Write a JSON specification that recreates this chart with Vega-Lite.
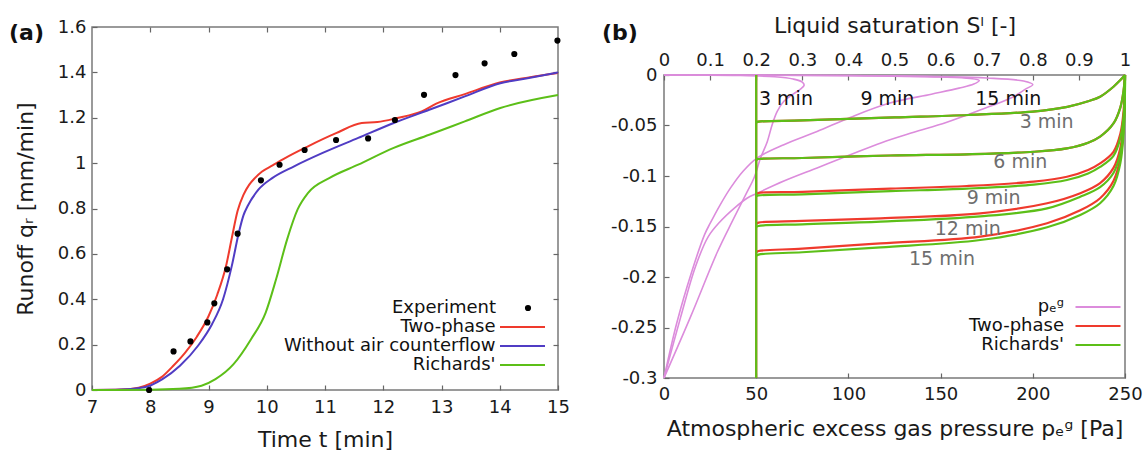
{
  "$schema": "https://vega.github.io/schema/vega-lite/v6.json",
  "padding": {"left": 8, "top": 7, "right": 0, "bottom": 0},
  "spacing": 30,
  "datasets": {
    "runoff": [
      {"model": "Two-phase", "t": 7.0, "q": 0.0},
      {"model": "Two-phase", "t": 7.5, "q": 0.002},
      {"model": "Two-phase", "t": 7.8, "q": 0.01},
      {"model": "Two-phase", "t": 8.0, "q": 0.028},
      {"model": "Two-phase", "t": 8.2, "q": 0.058},
      {"model": "Two-phase", "t": 8.4, "q": 0.108},
      {"model": "Two-phase", "t": 8.6, "q": 0.165},
      {"model": "Two-phase", "t": 8.8, "q": 0.235},
      {"model": "Two-phase", "t": 9.0, "q": 0.325},
      {"model": "Two-phase", "t": 9.15, "q": 0.42},
      {"model": "Two-phase", "t": 9.3, "q": 0.545},
      {"model": "Two-phase", "t": 9.4, "q": 0.67},
      {"model": "Two-phase", "t": 9.5, "q": 0.79},
      {"model": "Two-phase", "t": 9.6, "q": 0.86},
      {"model": "Two-phase", "t": 9.7, "q": 0.905},
      {"model": "Two-phase", "t": 9.8, "q": 0.935},
      {"model": "Two-phase", "t": 9.92, "q": 0.963},
      {"model": "Two-phase", "t": 10.1, "q": 0.99},
      {"model": "Two-phase", "t": 10.3, "q": 1.02},
      {"model": "Two-phase", "t": 10.7, "q": 1.073},
      {"model": "Two-phase", "t": 11.2, "q": 1.133},
      {"model": "Two-phase", "t": 11.63, "q": 1.177},
      {"model": "Two-phase", "t": 11.9, "q": 1.181},
      {"model": "Two-phase", "t": 12.24, "q": 1.199},
      {"model": "Two-phase", "t": 12.66, "q": 1.228},
      {"model": "Two-phase", "t": 12.91, "q": 1.262},
      {"model": "Two-phase", "t": 13.4, "q": 1.304},
      {"model": "Two-phase", "t": 14.0, "q": 1.355},
      {"model": "Two-phase", "t": 14.5, "q": 1.378},
      {"model": "Two-phase", "t": 15.0, "q": 1.397},
      {"model": "Without air counterflow", "t": 7.0, "q": 0.0},
      {"model": "Without air counterflow", "t": 7.5, "q": 0.002},
      {"model": "Without air counterflow", "t": 7.9, "q": 0.012},
      {"model": "Without air counterflow", "t": 8.21, "q": 0.048},
      {"model": "Without air counterflow", "t": 8.51, "q": 0.107},
      {"model": "Without air counterflow", "t": 8.82, "q": 0.195},
      {"model": "Without air counterflow", "t": 9.06, "q": 0.29},
      {"model": "Without air counterflow", "t": 9.25, "q": 0.4},
      {"model": "Without air counterflow", "t": 9.4, "q": 0.547},
      {"model": "Without air counterflow", "t": 9.52, "q": 0.693},
      {"model": "Without air counterflow", "t": 9.6, "q": 0.77},
      {"model": "Without air counterflow", "t": 9.67, "q": 0.81},
      {"model": "Without air counterflow", "t": 9.86, "q": 0.884},
      {"model": "Without air counterflow", "t": 10.1, "q": 0.935},
      {"model": "Without air counterflow", "t": 10.47, "q": 0.986},
      {"model": "Without air counterflow", "t": 10.96, "q": 1.045},
      {"model": "Without air counterflow", "t": 11.57, "q": 1.111},
      {"model": "Without air counterflow", "t": 12.18, "q": 1.177},
      {"model": "Without air counterflow", "t": 12.79, "q": 1.235},
      {"model": "Without air counterflow", "t": 13.4, "q": 1.294},
      {"model": "Without air counterflow", "t": 14.01, "q": 1.352},
      {"model": "Without air counterflow", "t": 14.5, "q": 1.375},
      {"model": "Without air counterflow", "t": 15.0, "q": 1.4},
      {"model": "Richards'", "t": 7.0, "q": 0.0},
      {"model": "Richards'", "t": 8.0, "q": 0.001},
      {"model": "Richards'", "t": 8.5, "q": 0.005},
      {"model": "Richards'", "t": 8.88, "q": 0.019},
      {"model": "Richards'", "t": 9.12, "q": 0.048},
      {"model": "Richards'", "t": 9.43, "q": 0.114},
      {"model": "Richards'", "t": 9.73, "q": 0.224},
      {"model": "Richards'", "t": 9.98, "q": 0.34},
      {"model": "Richards'", "t": 10.16, "q": 0.488},
      {"model": "Richards'", "t": 10.35, "q": 0.664},
      {"model": "Richards'", "t": 10.53, "q": 0.796},
      {"model": "Richards'", "t": 10.71, "q": 0.869},
      {"model": "Richards'", "t": 11.08, "q": 0.935},
      {"model": "Richards'", "t": 11.57, "q": 0.993},
      {"model": "Richards'", "t": 12.18, "q": 1.067},
      {"model": "Richards'", "t": 12.79, "q": 1.125},
      {"model": "Richards'", "t": 13.4, "q": 1.184},
      {"model": "Richards'", "t": 14.01, "q": 1.243},
      {"model": "Richards'", "t": 15.0, "q": 1.3}
    ],
    "experiment": [
      {"t": 7.98, "q": 0.0},
      {"t": 8.4, "q": 0.17},
      {"t": 8.69, "q": 0.214},
      {"t": 8.98, "q": 0.298},
      {"t": 9.1, "q": 0.382},
      {"t": 9.32, "q": 0.532},
      {"t": 9.5, "q": 0.689},
      {"t": 9.9, "q": 0.924},
      {"t": 10.22, "q": 0.993},
      {"t": 10.65, "q": 1.058},
      {"t": 11.19, "q": 1.102},
      {"t": 11.74, "q": 1.109},
      {"t": 12.2, "q": 1.19},
      {"t": 12.7, "q": 1.301},
      {"t": 13.24, "q": 1.388},
      {"t": 13.74, "q": 1.44},
      {"t": 14.25, "q": 1.481},
      {"t": 14.99, "q": 1.54}
    ],
    "gas": [
      {"time": 3, "i": 0, "p": 0, "z": 0},
      {"time": 3, "i": 1, "p": 40, "z": -0.0005},
      {"time": 3, "i": 2, "p": 60, "z": -0.0018},
      {"time": 3, "i": 3, "p": 70, "z": -0.004},
      {"time": 3, "i": 4, "p": 75, "z": -0.007},
      {"time": 3, "i": 5, "p": 76, "z": -0.01},
      {"time": 3, "i": 6, "p": 74, "z": -0.014},
      {"time": 3, "i": 7, "p": 70, "z": -0.019},
      {"time": 3, "i": 8, "p": 65, "z": -0.026},
      {"time": 3, "i": 9, "p": 61.4, "z": -0.036},
      {"time": 3, "i": 10, "p": 58.7, "z": -0.049},
      {"time": 3, "i": 11, "p": 56, "z": -0.066},
      {"time": 3, "i": 12, "p": 52.4, "z": -0.082},
      {"time": 3, "i": 13, "p": 48.8, "z": -0.102},
      {"time": 3, "i": 14, "p": 45, "z": -0.116},
      {"time": 3, "i": 15, "p": 37, "z": -0.145},
      {"time": 3, "i": 16, "p": 29, "z": -0.175},
      {"time": 3, "i": 17, "p": 14.5, "z": -0.239},
      {"time": 3, "i": 18, "p": 0, "z": -0.3},
      {"time": 9, "i": 0, "p": 0, "z": 0},
      {"time": 9, "i": 1, "p": 100, "z": -0.0006},
      {"time": 9, "i": 2, "p": 150, "z": -0.002},
      {"time": 9, "i": 3, "p": 166, "z": -0.0035},
      {"time": 9, "i": 4, "p": 171, "z": -0.0055},
      {"time": 9, "i": 5, "p": 168, "z": -0.009},
      {"time": 9, "i": 6, "p": 160, "z": -0.013},
      {"time": 9, "i": 7, "p": 145, "z": -0.019},
      {"time": 9, "i": 8, "p": 122, "z": -0.028},
      {"time": 9, "i": 9, "p": 101, "z": -0.042},
      {"time": 9, "i": 10, "p": 83, "z": -0.056},
      {"time": 9, "i": 11, "p": 65, "z": -0.069},
      {"time": 9, "i": 12, "p": 50.6, "z": -0.082},
      {"time": 9, "i": 13, "p": 43, "z": -0.095},
      {"time": 9, "i": 14, "p": 36, "z": -0.112},
      {"time": 9, "i": 15, "p": 30, "z": -0.13},
      {"time": 9, "i": 16, "p": 25, "z": -0.147},
      {"time": 9, "i": 17, "p": 22, "z": -0.158},
      {"time": 9, "i": 18, "p": 15, "z": -0.195},
      {"time": 9, "i": 19, "p": 7, "z": -0.245},
      {"time": 9, "i": 20, "p": 0, "z": -0.3},
      {"time": 15, "i": 0, "p": 0, "z": 0},
      {"time": 15, "i": 1, "p": 120, "z": -0.0008},
      {"time": 15, "i": 2, "p": 175, "z": -0.003},
      {"time": 15, "i": 3, "p": 195, "z": -0.006},
      {"time": 15, "i": 4, "p": 200, "z": -0.0095},
      {"time": 15, "i": 5, "p": 196, "z": -0.014},
      {"time": 15, "i": 6, "p": 189, "z": -0.022},
      {"time": 15, "i": 7, "p": 171, "z": -0.035},
      {"time": 15, "i": 8, "p": 153, "z": -0.047},
      {"time": 15, "i": 9, "p": 135, "z": -0.057},
      {"time": 15, "i": 10, "p": 118, "z": -0.067},
      {"time": 15, "i": 11, "p": 101, "z": -0.079},
      {"time": 15, "i": 12, "p": 83, "z": -0.092},
      {"time": 15, "i": 13, "p": 65, "z": -0.105},
      {"time": 15, "i": 14, "p": 50.6, "z": -0.117},
      {"time": 15, "i": 15, "p": 45, "z": -0.122},
      {"time": 15, "i": 16, "p": 38, "z": -0.132},
      {"time": 15, "i": 17, "p": 30, "z": -0.146},
      {"time": 15, "i": 18, "p": 24, "z": -0.16},
      {"time": 15, "i": 19, "p": 17, "z": -0.19},
      {"time": 15, "i": 20, "p": 9, "z": -0.24},
      {"time": 15, "i": 21, "p": 0, "z": -0.3}
    ],
    "gasLabels": [
      {"label": "3 min", "p": 51.5, "z": -0.024},
      {"label": "9 min", "p": 106.5, "z": -0.024},
      {"label": "15 min", "p": 168.8, "z": -0.024}
    ],
    "saturation": [
      {"model": "Two-phase", "time": 0, "i": 0, "s": 0.2, "z": 0},
      {"model": "Two-phase", "time": 0, "i": 1, "s": 0.2, "z": -0.3},
      {"model": "Two-phase", "time": 3, "i": 0, "s": 0.2, "z": -0.047},
      {"model": "Two-phase", "time": 3, "i": 1, "s": 0.205, "z": -0.0462},
      {"model": "Two-phase", "time": 3, "i": 2, "s": 0.3, "z": -0.045},
      {"model": "Two-phase", "time": 3, "i": 3, "s": 0.5, "z": -0.042},
      {"model": "Two-phase", "time": 3, "i": 4, "s": 0.66, "z": -0.0396},
      {"model": "Two-phase", "time": 3, "i": 5, "s": 0.8, "z": -0.0362},
      {"model": "Two-phase", "time": 3, "i": 6, "s": 0.875, "z": -0.0315},
      {"model": "Two-phase", "time": 3, "i": 7, "s": 0.92, "z": -0.026},
      {"model": "Two-phase", "time": 3, "i": 8, "s": 0.946, "z": -0.0215},
      {"model": "Two-phase", "time": 3, "i": 9, "s": 0.975, "z": -0.0116},
      {"model": "Two-phase", "time": 3, "i": 10, "s": 0.99, "z": -0.005},
      {"model": "Two-phase", "time": 3, "i": 11, "s": 1, "z": 0},
      {"model": "Two-phase", "time": 6, "i": 0, "s": 0.2, "z": -0.084},
      {"model": "Two-phase", "time": 6, "i": 1, "s": 0.205, "z": -0.0832},
      {"model": "Two-phase", "time": 6, "i": 2, "s": 0.3, "z": -0.0822},
      {"model": "Two-phase", "time": 6, "i": 3, "s": 0.491, "z": -0.0797},
      {"model": "Two-phase", "time": 6, "i": 4, "s": 0.657, "z": -0.0785},
      {"model": "Two-phase", "time": 6, "i": 5, "s": 0.802, "z": -0.076},
      {"model": "Two-phase", "time": 6, "i": 6, "s": 0.874, "z": -0.0726},
      {"model": "Two-phase", "time": 6, "i": 7, "s": 0.92, "z": -0.067},
      {"model": "Two-phase", "time": 6, "i": 8, "s": 0.946, "z": -0.061},
      {"model": "Two-phase", "time": 6, "i": 9, "s": 0.975, "z": -0.048},
      {"model": "Two-phase", "time": 6, "i": 10, "s": 0.99, "z": -0.032},
      {"model": "Two-phase", "time": 6, "i": 11, "s": 0.997, "z": -0.015},
      {"model": "Two-phase", "time": 6, "i": 12, "s": 1, "z": 0},
      {"model": "Two-phase", "time": 9, "i": 0, "s": 0.2, "z": -0.118},
      {"model": "Two-phase", "time": 9, "i": 1, "s": 0.205, "z": -0.1168},
      {"model": "Two-phase", "time": 9, "i": 2, "s": 0.3, "z": -0.1157},
      {"model": "Two-phase", "time": 9, "i": 3, "s": 0.491, "z": -0.1125},
      {"model": "Two-phase", "time": 9, "i": 4, "s": 0.657, "z": -0.1099},
      {"model": "Two-phase", "time": 9, "i": 5, "s": 0.802, "z": -0.1056},
      {"model": "Two-phase", "time": 9, "i": 6, "s": 0.874, "z": -0.1007},
      {"model": "Two-phase", "time": 9, "i": 7, "s": 0.92, "z": -0.094},
      {"model": "Two-phase", "time": 9, "i": 8, "s": 0.946, "z": -0.0875},
      {"model": "Two-phase", "time": 9, "i": 9, "s": 0.975, "z": -0.076},
      {"model": "Two-phase", "time": 9, "i": 10, "s": 0.99, "z": -0.058},
      {"model": "Two-phase", "time": 9, "i": 11, "s": 0.997, "z": -0.035},
      {"model": "Two-phase", "time": 9, "i": 12, "s": 1, "z": 0},
      {"model": "Two-phase", "time": 12, "i": 0, "s": 0.2, "z": -0.1475},
      {"model": "Two-phase", "time": 12, "i": 1, "s": 0.205, "z": -0.1462},
      {"model": "Two-phase", "time": 12, "i": 2, "s": 0.3, "z": -0.1445},
      {"model": "Two-phase", "time": 12, "i": 3, "s": 0.47, "z": -0.1419},
      {"model": "Two-phase", "time": 12, "i": 4, "s": 0.686, "z": -0.137},
      {"model": "Two-phase", "time": 12, "i": 5, "s": 0.831, "z": -0.127},
      {"model": "Two-phase", "time": 12, "i": 6, "s": 0.903, "z": -0.117},
      {"model": "Two-phase", "time": 12, "i": 7, "s": 0.946, "z": -0.107},
      {"model": "Two-phase", "time": 12, "i": 8, "s": 0.975, "z": -0.092},
      {"model": "Two-phase", "time": 12, "i": 9, "s": 0.99, "z": -0.072},
      {"model": "Two-phase", "time": 12, "i": 10, "s": 0.997, "z": -0.045},
      {"model": "Two-phase", "time": 12, "i": 11, "s": 1, "z": 0},
      {"model": "Two-phase", "time": 15, "i": 0, "s": 0.2, "z": -0.1755},
      {"model": "Two-phase", "time": 15, "i": 1, "s": 0.205, "z": -0.1743},
      {"model": "Two-phase", "time": 15, "i": 2, "s": 0.3, "z": -0.172},
      {"model": "Two-phase", "time": 15, "i": 3, "s": 0.47, "z": -0.1667},
      {"model": "Two-phase", "time": 15, "i": 4, "s": 0.686, "z": -0.16},
      {"model": "Two-phase", "time": 15, "i": 5, "s": 0.831, "z": -0.1468},
      {"model": "Two-phase", "time": 15, "i": 6, "s": 0.903, "z": -0.134},
      {"model": "Two-phase", "time": 15, "i": 7, "s": 0.946, "z": -0.122},
      {"model": "Two-phase", "time": 15, "i": 8, "s": 0.975, "z": -0.105},
      {"model": "Two-phase", "time": 15, "i": 9, "s": 0.99, "z": -0.082},
      {"model": "Two-phase", "time": 15, "i": 10, "s": 0.997, "z": -0.05},
      {"model": "Two-phase", "time": 15, "i": 11, "s": 1, "z": 0},
      {"model": "Richards'", "time": 0, "i": 0, "s": 0.2, "z": 0},
      {"model": "Richards'", "time": 0, "i": 1, "s": 0.2, "z": -0.3},
      {"model": "Richards'", "time": 3, "i": 0, "s": 0.2, "z": -0.047},
      {"model": "Richards'", "time": 3, "i": 1, "s": 0.205, "z": -0.0462},
      {"model": "Richards'", "time": 3, "i": 2, "s": 0.3, "z": -0.045},
      {"model": "Richards'", "time": 3, "i": 3, "s": 0.5, "z": -0.042},
      {"model": "Richards'", "time": 3, "i": 4, "s": 0.66, "z": -0.0396},
      {"model": "Richards'", "time": 3, "i": 5, "s": 0.8, "z": -0.0362},
      {"model": "Richards'", "time": 3, "i": 6, "s": 0.875, "z": -0.0315},
      {"model": "Richards'", "time": 3, "i": 7, "s": 0.92, "z": -0.026},
      {"model": "Richards'", "time": 3, "i": 8, "s": 0.946, "z": -0.0215},
      {"model": "Richards'", "time": 3, "i": 9, "s": 0.975, "z": -0.0116},
      {"model": "Richards'", "time": 3, "i": 10, "s": 0.99, "z": -0.005},
      {"model": "Richards'", "time": 3, "i": 11, "s": 1, "z": 0},
      {"model": "Richards'", "time": 6, "i": 0, "s": 0.2, "z": -0.084},
      {"model": "Richards'", "time": 6, "i": 1, "s": 0.205, "z": -0.0832},
      {"model": "Richards'", "time": 6, "i": 2, "s": 0.3, "z": -0.0822},
      {"model": "Richards'", "time": 6, "i": 3, "s": 0.491, "z": -0.0797},
      {"model": "Richards'", "time": 6, "i": 4, "s": 0.657, "z": -0.0785},
      {"model": "Richards'", "time": 6, "i": 5, "s": 0.802, "z": -0.076},
      {"model": "Richards'", "time": 6, "i": 6, "s": 0.874, "z": -0.0726},
      {"model": "Richards'", "time": 6, "i": 7, "s": 0.92, "z": -0.067},
      {"model": "Richards'", "time": 6, "i": 8, "s": 0.946, "z": -0.061},
      {"model": "Richards'", "time": 6, "i": 9, "s": 0.975, "z": -0.048},
      {"model": "Richards'", "time": 6, "i": 10, "s": 0.99, "z": -0.032},
      {"model": "Richards'", "time": 6, "i": 11, "s": 0.997, "z": -0.015},
      {"model": "Richards'", "time": 6, "i": 12, "s": 1, "z": 0},
      {"model": "Richards'", "time": 9, "i": 0, "s": 0.2, "z": -0.12},
      {"model": "Richards'", "time": 9, "i": 1, "s": 0.205, "z": -0.1192},
      {"model": "Richards'", "time": 9, "i": 2, "s": 0.3, "z": -0.1182},
      {"model": "Richards'", "time": 9, "i": 3, "s": 0.491, "z": -0.115},
      {"model": "Richards'", "time": 9, "i": 4, "s": 0.657, "z": -0.1125},
      {"model": "Richards'", "time": 9, "i": 5, "s": 0.802, "z": -0.1085},
      {"model": "Richards'", "time": 9, "i": 6, "s": 0.874, "z": -0.104},
      {"model": "Richards'", "time": 9, "i": 7, "s": 0.92, "z": -0.0975},
      {"model": "Richards'", "time": 9, "i": 8, "s": 0.946, "z": -0.091},
      {"model": "Richards'", "time": 9, "i": 9, "s": 0.975, "z": -0.08},
      {"model": "Richards'", "time": 9, "i": 10, "s": 0.99, "z": -0.062},
      {"model": "Richards'", "time": 9, "i": 11, "s": 0.998, "z": -0.035},
      {"model": "Richards'", "time": 9, "i": 12, "s": 1, "z": 0},
      {"model": "Richards'", "time": 12, "i": 0, "s": 0.2, "z": -0.1505},
      {"model": "Richards'", "time": 12, "i": 1, "s": 0.205, "z": -0.1495},
      {"model": "Richards'", "time": 12, "i": 2, "s": 0.3, "z": -0.1478},
      {"model": "Richards'", "time": 12, "i": 3, "s": 0.47, "z": -0.1452},
      {"model": "Richards'", "time": 12, "i": 4, "s": 0.686, "z": -0.14},
      {"model": "Richards'", "time": 12, "i": 5, "s": 0.831, "z": -0.132},
      {"model": "Richards'", "time": 12, "i": 6, "s": 0.903, "z": -0.1205},
      {"model": "Richards'", "time": 12, "i": 7, "s": 0.946, "z": -0.111},
      {"model": "Richards'", "time": 12, "i": 8, "s": 0.975, "z": -0.097},
      {"model": "Richards'", "time": 12, "i": 9, "s": 0.99, "z": -0.077},
      {"model": "Richards'", "time": 12, "i": 10, "s": 0.998, "z": -0.045},
      {"model": "Richards'", "time": 12, "i": 11, "s": 1, "z": 0},
      {"model": "Richards'", "time": 15, "i": 0, "s": 0.2, "z": -0.179},
      {"model": "Richards'", "time": 15, "i": 1, "s": 0.205, "z": -0.1778},
      {"model": "Richards'", "time": 15, "i": 2, "s": 0.3, "z": -0.1755},
      {"model": "Richards'", "time": 15, "i": 3, "s": 0.47, "z": -0.1706},
      {"model": "Richards'", "time": 15, "i": 4, "s": 0.686, "z": -0.1634},
      {"model": "Richards'", "time": 15, "i": 5, "s": 0.831, "z": -0.1508},
      {"model": "Richards'", "time": 15, "i": 6, "s": 0.903, "z": -0.1386},
      {"model": "Richards'", "time": 15, "i": 7, "s": 0.946, "z": -0.127},
      {"model": "Richards'", "time": 15, "i": 8, "s": 0.975, "z": -0.11},
      {"model": "Richards'", "time": 15, "i": 9, "s": 0.99, "z": -0.087},
      {"model": "Richards'", "time": 15, "i": 10, "s": 0.998, "z": -0.05},
      {"model": "Richards'", "time": 15, "i": 11, "s": 1, "z": 0}
    ],
    "saturationLabels": [
      {"label": "3 min", "s": 0.83, "z": -0.047},
      {"label": "6 min", "s": 0.773, "z": -0.0858},
      {"label": "9 min", "s": 0.715, "z": -0.1221},
      {"label": "12 min", "s": 0.659, "z": -0.1525},
      {"label": "15 min", "s": 0.603, "z": -0.182}
    ]
  },
  "hconcat": [
    {
      "width": 466,
      "height": 363,
      "title": {"text": "(a)", "anchor": "start", "frame": "group", "orient": "top", "dx": -83, "offset": -37, "fontSize": 22, "fontWeight": "bold", "font": "DejaVu Sans", "color": "#111111"},
      "layer": [
        {
          "data": {"name": "runoff"},
          "mark": {"type": "line", "interpolate": "monotone", "strokeWidth": 2},
          "encoding": {
            "x": {
              "field": "t", "type": "quantitative",
              "scale": {"domain": [7, 15], "nice": false, "zero": false},
              "axis": {"orient": "bottom", "title": "Time t [min]", "values": [7, 8, 9, 10, 11, 12, 13, 14, 15], "format": "d", "labelPadding": 13, "titlePadding": 13, "labelFlush": false}
            },
            "y": {
              "field": "q", "type": "quantitative",
              "scale": {"domain": [0, 1.6], "nice": false},
              "axis": {"orient": "left", "title": "Runoff qᵣ [mm/min]", "values": [0, 0.2, 0.4, 0.6, 0.8, 1, 1.2, 1.4, 1.6], "format": ".1~f", "labelPadding": 11, "titlePadding": 20, "labelFlush": false}
            },
            "color": {
              "field": "model", "type": "nominal",
              "scale": {"domain": ["Two-phase", "Without air counterflow", "Richards'"], "range": ["#ef3a2d", "#503cc4", "#5cbf18"]},
              "legend": {"orient": "none", "legendX": 420.5, "legendY": 290, "title": null, "symbolType": "M-2.5,0H2.5", "symbolSize": 324, "symbolStrokeWidth": 2, "labelAlign": "right", "labelOffset": -37, "rowPadding": 0, "labelLimit": 400}
            }
          }
        },
        {
          "data": {"name": "experiment"},
          "mark": {"type": "point", "filled": true, "size": 38, "color": "#000000", "opacity": 1},
          "encoding": {
            "x": {
              "field": "t", "type": "quantitative",
              "scale": {"domain": [7, 15], "nice": false, "zero": false},
              "axis": {"orient": "top", "title": " ", "titleFontSize": 17, "titlePadding": 0, "titleColor": "transparent", "labels": false, "values": [8, 9, 10, 11, 12, 13, 14]}
            },
            "y": {
              "field": "q", "type": "quantitative",
              "scale": {"domain": [0, 1.6], "nice": false},
              "axis": {"orient": "right", "title": null, "labels": false, "values": [0.2, 0.4, 0.6, 0.8, 1, 1.2, 1.4]}
            },
            "shape": {
              "datum": "Experiment", "type": "nominal",
              "scale": {"range": ["circle"]},
              "legend": {"orient": "none", "legendX": 427, "legendY": 272, "title": null, "symbolSize": 38, "symbolFillColor": "#000000", "symbolStrokeColor": "#000000", "symbolOpacity": 1, "labelAlign": "right", "labelOffset": -41, "labelLimit": 400}
            }
          }
        }
      ],
      "resolve": {"axis": {"x": "independent", "y": "independent"}}
    },
    {
      "spacing": 0,
      "bounds": "flush",
      "vconcat": [
        {
          "width": 461,
          "height": 48,
          "view": {"stroke": null},
          "data": {"values": []},
          "mark": "text",
          "encoding": {}
        },
        {
          "width": 461,
          "height": 303,
          "title": {"text": "(b)", "anchor": "start", "frame": "group", "orient": "top", "dx": -62, "offset": -31, "fontSize": 22, "fontWeight": "bold", "font": "DejaVu Sans", "color": "#111111"},
          "layer": [
            {
              "data": {"name": "gas"},
              "mark": {"type": "line", "interpolate": "catmull-rom", "strokeWidth": 1.6},
              "encoding": {
                "x": {
                  "field": "p", "type": "quantitative",
                  "scale": {"domain": [0, 250], "nice": false},
                  "axis": {"orient": "bottom", "title": "Atmospheric excess gas pressure pₑᵍ [Pa]", "values": [0, 50, 100, 150, 200, 250], "format": "d", "labelPadding": 12, "titlePadding": 15, "labelFlush": false}
                },
                "y": {
                  "field": "z", "type": "quantitative",
                  "scale": {"domain": [-0.3, 0], "nice": false},
                  "axis": {"orient": "left", "title": null, "values": [0, -0.05, -0.1, -0.15, -0.2, -0.25, -0.3], "labelExpr": "datum.value == 0 ? '0' : '-' + format(-datum.value, '~g')", "labelPadding": 12, "labelFlush": false}
                },
                "color": {
                  "datum": "pₑᵍ", "type": "nominal",
                  "scale": {"domain": ["pₑᵍ", "Two-phase", "Richards'"], "range": ["#dc8cdc", "#ef3a2d", "#5cbf18"]},
                  "legend": {"orient": "none", "legendX": 424, "legendY": 270, "title": null, "symbolType": "M-2.5,0H2.5", "symbolSize": 324, "symbolStrokeWidth": 2, "labelAlign": "right", "labelOffset": -44, "rowPadding": 0, "labelLimit": 400}
                },
                "detail": {"field": "time", "type": "nominal"},
                "order": {"field": "i", "type": "quantitative"}
              }
            },
            {
              "data": {"name": "gasLabels"},
              "mark": {"type": "text", "align": "left", "baseline": "middle", "fontSize": 19, "font": "DejaVu Sans", "color": "#111111"},
              "encoding": {
                "x": {"field": "p", "type": "quantitative", "scale": {"domain": [0, 250], "nice": false}, "axis": null},
                "y": {"field": "z", "type": "quantitative"},
                "text": {"field": "label"}
              }
            },
            {
              "data": {"name": "saturation"},
              "transform": [{"filter": "datum.model == 'Two-phase'"}],
              "mark": {"type": "line", "interpolate": "catmull-rom", "strokeWidth": 2.2},
              "encoding": {
                "x": {
                  "field": "s", "type": "quantitative",
                  "scale": {"domain": [0, 1], "nice": false},
                  "axis": {"orient": "top", "title": "Liquid saturation Sˡ [-]", "values": [0, 0.1, 0.2, 0.3, 0.4, 0.5, 0.6, 0.7, 0.8, 0.9, 1], "format": ".1~f", "labelPadding": 11, "titlePadding": 14, "labelFlush": false}
                },
                "y": {"field": "z", "type": "quantitative"},
                "color": {"field": "model", "type": "nominal", "title": null},
                "detail": {"field": "time", "type": "nominal"},
                "order": {"field": "i", "type": "quantitative"}
              }
            },
            {
              "data": {"name": "saturation"},
              "transform": [{"filter": "datum.model == \"Richards'\""}],
              "mark": {"type": "line", "interpolate": "catmull-rom", "strokeWidth": 2.2},
              "encoding": {
                "x": {"field": "s", "type": "quantitative", "scale": {"domain": [0, 1], "nice": false}, "axis": null},
                "y": {"field": "z", "type": "quantitative"},
                "color": {"field": "model", "type": "nominal", "title": null},
                "detail": {"field": "time", "type": "nominal"},
                "order": {"field": "i", "type": "quantitative"}
              }
            },
            {
              "data": {"name": "saturationLabels"},
              "mark": {"type": "text", "align": "center", "baseline": "middle", "fontSize": 19, "font": "DejaVu Sans", "color": "#6e6e6e"},
              "encoding": {
                "x": {"field": "s", "type": "quantitative", "scale": {"domain": [0, 1], "nice": false}, "axis": null},
                "y": {"field": "z", "type": "quantitative"},
                "text": {"field": "label"}
              }
            }
          ],
          "resolve": {"scale": {"x": "independent"}, "axis": {"x": "independent"}}
        }
      ]
    }
  ],
  "resolve": {"scale": {"color": "independent", "shape": "independent"}, "legend": {"color": "independent", "shape": "independent"}},
  "config": {
    "font": "DejaVu Sans",
    "view": {"stroke": "#7a7a7a", "strokeWidth": 1.5},
    "axis": {
      "domain": false, "grid": false,
      "labelFont": "DejaVu Sans", "labelFontSize": 18, "labelColor": "#1a1a1a",
      "titleFont": "DejaVu Sans", "titleFontSize": 22, "titleFontWeight": "normal", "titleColor": "#1a1a1a",
      "tickColor": "#666666", "tickSize": -5, "tickWidth": 1.2
    },
    "legend": {"labelFont": "DejaVu Sans", "labelFontSize": 18, "labelColor": "#111111"}
  }
}
